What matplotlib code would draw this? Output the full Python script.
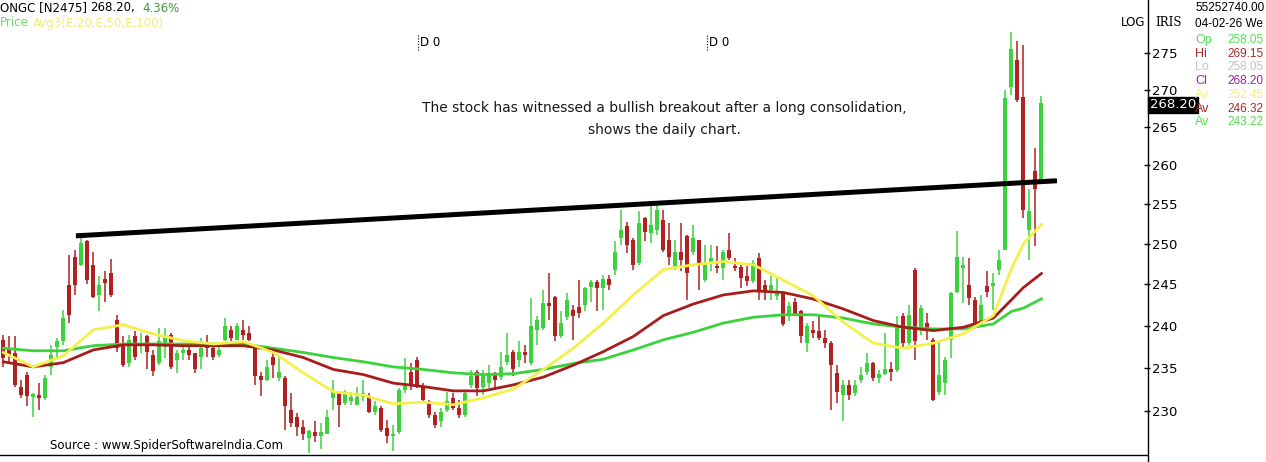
import numpy as np
import matplotlib.pyplot as plt

plt.rcParams['font.family'] = ['DejaVu Sans']

# daily candles (oldest first)
opens = [238.3, 237.1, 236.7, 232.8, 234.2, 231.6, 231.8, 231.5, 235.1, 237.5,
         238.1, 244.9, 248.3, 247.4, 250.3, 247.4, 243.7, 245.6, 246.4, 240.7,
         237.7, 235.5, 238.7, 237.7, 238.7, 236.5, 235.5, 237.5, 238.9, 235.9,
         236.7, 237.1, 236.7, 236.3, 237.9, 237.3, 236.5, 238.3, 239.5, 238.3,
         239.5, 239.1, 237.3, 234.0, 233.6, 236.3, 233.8, 233.8, 230.1, 229.3,
         228.2, 226.9, 227.6, 227.1, 227.4, 231.5, 232.1, 230.9, 231.1, 230.7,
         231.6, 231.6, 229.9, 230.3, 228.0, 227.1, 227.6, 232.4, 234.5, 235.9,
         232.8, 231.1, 229.5, 228.8, 230.1, 231.5, 230.3, 229.5, 233.0, 234.5,
         232.8, 233.2, 234.4, 233.9, 235.7, 236.9, 235.9, 236.9, 235.5, 239.5,
         239.7, 242.7, 243.5, 238.7, 241.0, 241.9, 242.2, 242.5, 244.7, 245.3,
         244.5, 245.7, 246.8, 250.7, 252.2, 250.5, 247.6, 253.2, 251.3, 251.7,
         253.0, 250.5, 247.0, 249.0, 251.0, 249.0, 250.5, 245.5, 247.8, 247.3,
         247.0, 249.2, 247.3, 247.1, 246.0, 245.4, 248.2, 244.9, 244.3, 243.6,
         243.9, 241.1, 242.9, 241.7, 237.9, 239.5, 239.3, 238.5, 237.9, 234.4,
         231.8, 233.0, 232.0, 233.6, 234.5, 235.5, 233.8, 234.3, 234.9, 234.7,
         241.1, 237.9, 246.8, 239.5, 240.3, 238.3, 232.2, 233.2, 238.3, 244.1,
         247.0, 244.9, 243.1, 240.5, 244.8, 244.8, 246.8, 249.2, 270.4, 274.0,
         269.0, 251.7, 259.3, 258.05]
highs = [238.9, 238.7, 238.7, 233.6, 234.5, 232.0, 233.2, 234.2, 237.7, 238.5,
         241.9, 248.6, 249.2, 250.7, 250.5, 249.0, 246.0, 246.6, 248.1, 241.3,
         238.7, 238.9, 239.3, 239.1, 238.9, 237.1, 239.7, 239.7, 239.1, 237.1,
         237.7, 237.7, 236.7, 238.5, 238.9, 237.5, 237.7, 240.9, 239.9, 240.3,
         240.7, 239.9, 237.5, 234.5, 235.9, 236.7, 236.3, 234.0, 232.0, 229.8,
         229.0, 227.8, 228.8, 228.6, 230.1, 233.6, 232.2, 232.4, 232.2, 232.8,
         233.6, 232.0, 231.1, 230.5, 229.0, 228.4, 232.6, 236.1, 235.5, 236.3,
         233.2, 231.3, 229.9, 230.3, 232.2, 232.0, 231.3, 232.2, 234.7, 234.7,
         234.7, 235.3, 234.5, 236.9, 239.1, 237.1, 238.1, 237.7, 243.3, 241.1,
         244.3, 246.4, 243.6, 241.7, 243.9, 242.5, 245.5, 244.7, 245.5, 245.5,
         246.2, 246.2, 250.3, 254.3, 252.8, 250.7, 254.1, 253.4, 254.9, 254.9,
         254.3, 252.6, 250.5, 252.6, 251.1, 252.4, 250.5, 249.9, 249.9, 249.7,
         249.2, 251.3, 248.2, 247.4, 247.2, 248.0, 248.9, 245.5, 246.0, 246.0,
         244.1, 242.9, 243.3, 241.9, 240.3, 240.5, 241.3, 239.5, 238.1, 235.3,
         233.6, 233.6, 233.6, 235.1, 236.7, 235.7, 234.7, 239.1, 235.7, 241.1,
         241.5, 242.5, 247.0, 242.5, 241.5, 238.5, 238.3, 236.3, 244.1, 251.6,
         248.4, 248.2, 243.5, 243.7, 246.6, 246.4, 249.2, 270.0, 277.9, 276.6,
         276.1, 257.0, 262.2, 269.15]
lows = [235.1, 235.5, 232.8, 231.5, 230.5, 229.3, 230.1, 231.3, 234.2, 236.3,
        237.7, 240.3, 243.7, 247.2, 245.0, 243.3, 241.7, 242.9, 243.5, 236.9,
        235.1, 235.1, 235.9, 236.7, 234.9, 234.0, 235.3, 236.1, 234.9, 234.4,
        235.9, 235.9, 234.4, 234.8, 236.3, 235.9, 236.3, 238.1, 238.1, 238.3,
        238.3, 238.1, 233.0, 231.7, 233.4, 233.8, 233.4, 227.8, 228.2, 227.1,
        226.7, 225.2, 226.5, 225.6, 227.4, 230.1, 228.2, 230.7, 230.7, 230.7,
        231.1, 229.7, 229.5, 227.6, 226.3, 225.4, 227.4, 232.0, 232.4, 232.6,
        231.1, 229.2, 228.0, 228.2, 229.9, 230.1, 229.2, 229.3, 232.6, 231.7,
        231.8, 232.6, 232.4, 233.6, 235.3, 234.0, 235.1, 235.5, 235.3, 237.7,
        239.5, 240.7, 238.1, 238.5, 240.7, 238.3, 240.9, 241.7, 242.9, 241.7,
        241.9, 244.3, 246.2, 249.9, 248.8, 246.8, 247.4, 250.3, 250.1, 251.1,
        249.0, 247.4, 246.8, 246.6, 243.1, 248.6, 244.3, 245.3, 246.6, 246.4,
        245.5, 248.0, 246.6, 244.5, 244.8, 245.1, 243.1, 243.1, 243.1, 243.1,
        240.0, 240.5, 241.1, 237.9, 236.9, 238.5, 238.3, 237.3, 230.1, 230.9,
        228.8, 231.3, 231.7, 233.2, 234.1, 233.4, 233.2, 234.2, 233.4, 234.5,
        237.5, 237.7, 235.9, 238.9, 238.3, 231.1, 231.8, 231.8, 236.1, 243.9,
        242.7, 242.5, 240.1, 240.0, 243.5, 241.9, 246.2, 249.2, 269.3, 268.4,
        253.2, 248.0, 249.7, 258.05]
closes = [236.2, 236.5, 233.0, 231.8, 231.7, 231.9, 231.5, 233.8, 236.5, 238.1,
          240.9, 241.3, 244.9, 250.1, 245.5, 243.5, 244.9, 245.2, 243.7, 237.3,
          235.3, 238.3, 236.3, 237.9, 236.9, 234.6, 238.1, 238.9, 235.1, 236.7,
          237.1, 236.5, 234.9, 237.3, 237.3, 236.3, 237.1, 239.9, 238.5, 239.9,
          238.9, 238.3, 234.0, 233.6, 235.1, 235.3, 234.5, 230.5, 228.6, 228.2,
          227.4, 227.7, 227.1, 227.6, 229.3, 232.2, 230.7, 232.0, 231.6, 231.6,
          232.0, 229.9, 230.5, 227.8, 227.1, 227.4, 232.4, 233.0, 233.0, 232.8,
          231.3, 229.5, 228.4, 229.9, 231.1, 230.3, 229.5, 232.0, 234.0, 232.6,
          234.2, 234.4, 233.6, 235.1, 236.5, 234.9, 236.9, 236.5, 239.9, 240.7,
          242.7, 242.3, 238.7, 240.3, 243.1, 241.1, 241.5, 244.5, 245.3, 244.5,
          245.7, 244.9, 249.0, 251.7, 249.9, 247.4, 252.6, 251.5, 252.4, 254.3,
          249.2, 248.4, 249.0, 248.0, 246.4, 250.7, 247.6, 247.6, 248.2, 247.0,
          249.0, 248.2, 247.0, 245.8, 245.4, 247.6, 244.1, 244.0, 244.9, 243.9,
          240.2, 242.3, 241.3, 238.7, 239.9, 239.1, 238.5, 237.9, 235.3, 232.2,
          233.0, 231.8, 233.0, 234.1, 235.5, 233.8, 234.3, 234.9, 234.5, 239.9,
          237.9, 241.3, 238.1, 242.1, 239.7, 231.3, 234.2, 235.9, 243.9, 248.4,
          247.4, 243.3, 240.3, 242.5, 244.1, 245.2, 248.0, 268.9, 275.6, 268.6,
          254.3, 254.1, 257.0, 268.2]

# moving averages read at these candle numbers (1 = first candle)
ma_idx = [1, 6, 11, 16, 21, 26, 31, 36, 41, 46, 51, 56, 61, 66, 71, 76, 81, 86, 91,
          96, 101, 106, 111, 116, 121, 126, 131, 136, 141, 146, 151, 156, 161, 166,
          169, 171, 174]
ema20 = [236.8, 235.1, 236.4, 239.5, 240.1, 239.0, 238.2, 237.8, 238.1, 236.8,
         234.4, 232.2, 231.8, 230.8, 231.0, 230.7, 231.5, 232.5, 234.8, 237.3,
         240.3, 243.7, 246.8, 247.4, 247.8, 247.4, 245.5, 243.6, 240.4, 237.9,
         237.3, 237.9, 239.0, 241.2, 246.9, 250.0, 252.45]
ema50 = [235.7, 235.1, 235.6, 237.1, 237.7, 237.7, 237.6, 237.6, 237.6, 237.1,
         236.2, 234.8, 234.2, 233.2, 232.8, 232.3, 232.3, 233.0, 233.9, 235.3,
         236.9, 238.7, 241.2, 242.6, 243.7, 244.2, 244.0, 243.2, 242.0, 240.6,
         239.8, 239.4, 239.8, 240.9, 243.1, 244.6, 246.32]
ema100 = [237.3, 237.0, 237.0, 237.6, 237.8, 237.8, 237.8, 237.8, 237.8, 237.3,
          236.8, 236.2, 235.7, 235.1, 234.8, 234.4, 234.2, 234.3, 234.8, 235.5,
          236.0, 237.1, 238.3, 239.2, 240.3, 241.0, 241.3, 241.3, 240.9, 240.2,
          239.8, 239.6, 239.6, 240.2, 241.7, 242.1, 243.22]

# resistance trendline drawn on the chart
tl_idx = [13.1, 176.6]
tl_price = [251.0, 258.0]

yticks = [230, 235, 240, 245, 250, 255, 260, 265, 270, 275]

GREEN = '#3cd23c'
RED = '#b32020'
W, H = 1266, 462

fig = plt.figure(figsize=(W / 100, H / 100), dpi=100)
ax = fig.add_axes([0, 7 / H, 1147 / W, 455 / H])
ax.set_yscale('log')

o = np.array(opens)
c = np.array(closes)
x = np.arange(len(c))
cols = np.where(c >= o, GREEN, RED)
ax.vlines(x, lows, highs, colors=cols, lw=1.1, zorder=2)
ax.bar(x, np.maximum(np.abs(c - o), 0.15), bottom=np.minimum(o, c), width=0.68,
       color=cols, linewidth=0, zorder=3)

mx = np.array(ma_idx) - 1
ax.plot(mx, ema100, color='#3cd23c', lw=2.0, zorder=4)
ax.plot(mx, ema50, color='#a81c1c', lw=2.0, zorder=4)
ax.plot(mx, ema20, color='#f4f04a', lw=2.0, zorder=4)
ax.plot(np.array(tl_idx) - 1, tl_price, color='black', lw=3.6, zorder=5,
        solid_capstyle='butt')

ax.set_xlim(-0.55, 190.6)
ax.set_ylim(224.98, 282.37)
ax.set_xticks([])
ax.yaxis.tick_right()
ax.set_yticks(yticks)
ax.set_yticklabels([str(v) for v in yticks])
ax.yaxis.set_minor_locator(plt.NullLocator())
ax.tick_params(axis='y', direction='inout', length=5, width=1, pad=1,
               labelsize=9.5, colors='black')
for s in ['top', 'left', 'right']:
    ax.spines[s].set_visible(False)
ax.spines['bottom'].set_linewidth(1)

# right axis line runs to the figure bottom
fig.add_artist(plt.Line2D([1147.5 / W, 1147.5 / W], [0, 1], color='black', lw=1))


def ft(px, py, s, **kw):
    kw.setdefault('va', 'center')
    kw.setdefault('fontsize', 8.5)
    fig.text(px / W, 1 - py / H, s, **kw)


# header
ft(0, 8, 'ONGC [N2475]', color='black')
ft(90, 8, '268.20,', color='black')
ft(142, 8, '4.36%', color='#3a9a3a')
ft(0, 23, 'Price', color='#66dd66')
ft(33, 23, 'Avg3(E,20,E,50,E,100)', color='#eeee77')

# markers
for mxp in [418, 707]:
    fig.add_artist(plt.Line2D([mxp / W, mxp / W], [1 - 35 / H, 1 - 50 / H],
                              color='black', lw=0.8, ls=(0, (1, 1.5))))
    ft(mxp + 2, 42, 'D 0', color='black')

# annotation
ft(664, 108, 'The stock has witnessed a bullish breakout after a long consolidation,',
   ha='center', fontsize=10, color='#1a1a1a')
ft(664, 130, 'shows the daily chart.', ha='center', fontsize=10, color='#1a1a1a')

ft(50, 446, 'Source : www.SpiderSoftwareIndia.Com', color='black', fontsize=8.5)

# right side labels
ft(1121, 23, 'LOG', color='black')
ft(1155, 23, 'IRIS', color='black', family='DejaVu Serif')
ft(1150, 105, '268.20', color='white', fontsize=9.5,
   bbox=dict(boxstyle='square,pad=0.15', fc='black', ec='black'))

pf = 'Liberation Sans'
ft(1195, 8, '55252740.00', color='black', family=pf, fontsize=8.5)
ft(1195, 24, '04-02-26 We', color='black', family=pf, fontsize=8.5)
rows = [('Op', '258.05', '#55dd55'), ('Hi', '269.15', '#a52a2a'),
        ('Lo', '258.05', '#c4c4c4'), ('Cl', '268.20', '#a020a0'),
        ('Av', '252.45', '#f0f080'), ('Av', '246.32', '#a52a2a'),
        ('Av', '243.22', '#55dd55')]
for k, (lab, val, cl) in enumerate(rows):
    yy = 40 + k * 13.7
    ft(1195, yy, lab, color=cl, family=pf, fontsize=9)
    ft(1227, yy, val, color=cl, family=pf, fontsize=8.5)

fig.savefig('out.png', dpi=100, facecolor='white')
